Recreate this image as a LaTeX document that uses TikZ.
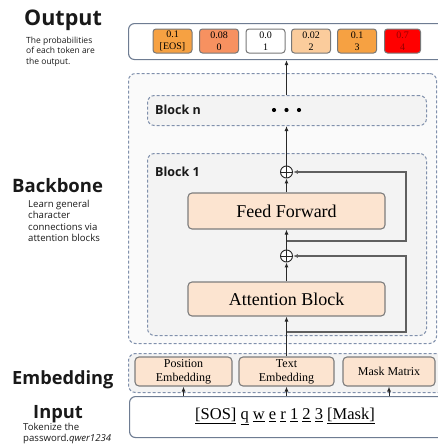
\documentclass[tikz,border=0pt]{standalone}
\usepackage{fontspec}
\setmainfont{Liberation Serif}
\newfontfamily\lab{Open Sans}
\usetikzlibrary{arrows.meta,calc}
\definecolor{dashc}{RGB}{128,144,172}
\definecolor{blockfill}{RGB}{243,243,243}
\definecolor{bbfill}{RGB}{250,250,250}
\definecolor{peach}{RGB}{252,228,208}
\definecolor{boxc}{RGB}{125,125,125}
\definecolor{outc}{RGB}{110,124,146}
\definecolor{arrc}{RGB}{40,40,40}
\definecolor{resc}{RGB}{95,95,95}
\definecolor{tokc}{RGB}{120,120,120}
\definecolor{tEOS}{RGB}{246,161,66}
\definecolor{tzero}{RGB}{247,145,96}
\definecolor{ttwo}{RGB}{251,204,156}
\definecolor{tthree}{RGB}{246,161,66}
\definecolor{tfour}{RGB}{255,0,0}
\definecolor{tfourtext}{RGB}{150,0,0}
\definecolor{labtext}{RGB}{25,25,25}
\begin{document}
\begin{tikzpicture}[x=1pt,y=-1pt,
  pbox/.style={draw=boxc, fill=peach, rounded corners=4pt, line width=1.1pt, inner sep=0pt, align=center},
  dbox/.style={draw=dashc, dash pattern=on 3pt off 2pt, rounded corners=7pt, line width=1pt, inner sep=0pt},
  tok/.style={draw=tokc, rounded corners=3pt, minimum width=39pt, minimum height=24pt, inner sep=0pt, align=center, line width=1pt, font=\fontsize{10}{11.5}\selectfont},
  arr/.style={-{Latex[length=5pt,width=4pt]}, draw=arrc, line width=1pt},
  res/.style={-{Latex[length=5pt,width=4pt]}, draw=resc, line width=1.2pt},
  plus/.style={circle, draw=black!85, fill=white, minimum size=12pt, inner sep=0pt, line width=0.9pt,
    path picture={\draw[black!85, line width=0.9pt] (path picture bounding box.north) -- (path picture bounding box.south)
      (path picture bounding box.west) -- (path picture bounding box.east);}},
  bigl/.style={text=labtext, inner sep=0pt, anchor=base west},
  smalll/.style={font=\lab\fontsize{8.5}{10}\selectfont, text=labtext, inner sep=0pt, anchor=base west},
  smallb/.style={font=\lab\fontsize{9.6}{11}\selectfont, text=labtext, inner sep=0pt, anchor=base west},
  btitle/.style={font=\lab\fontsize{12.5}{14}\selectfont\bfseries, text=labtext, inner sep=0pt, anchor=west}
]
\useasboundingbox (0,0) rectangle (438,447);
\clip (0,0) rectangle (438,447);

% ---------- left labels ----------
\node[bigl, font=\lab\fontsize{21.5}{24}\selectfont\bfseries] (lout) at (24,25) {Output};
\node[smalll] (lout1) at (26,43) {The probabilities};
\node[smalll] (lout2) at (26,53.5) {of each token are};
\node[smalll] (lout3) at (26,64) {the output.};

\node[bigl, font=\lab\fontsize{18.5}{22}\selectfont\bfseries] (lbb) at (12,192) {Backbone};
\node[smallb] (lbb1) at (28,207) {Learn general};
\node[smallb] (lbb2) at (28,218.5) {character};
\node[smallb] (lbb3) at (28,230) {connections via};
\node[smallb] (lbb4) at (28,241.5) {attention blocks};

\node[bigl, font=\lab\fontsize{18.2}{22}\selectfont\bfseries] (lemb) at (12,384) {Embedding};

\node[bigl, font=\lab\fontsize{18.3}{22}\selectfont\bfseries] (lin) at (33,418) {Input};
\node[smallb] (lin1) at (23,430) {Tokenize the};
\node[smallb] (lin2) at (23,441) {password.\textit{qwer1234}};

% ---------- output ----------
\node[draw=outc, fill=white, rounded corners=6pt, line width=1.1pt, minimum width=340pt, minimum height=36pt, inner sep=0pt, anchor=north west] (out) at (128,23) {};
\node[tok, fill=tEOS] (t0) at (172.5,41) {0.1\\{[EOS]}};
\node[tok, fill=tzero] (t1) at (219,41) {0.08\\0};
\node[tok, fill=white] (t2) at (265.5,41) {0.0\\1};
\node[tok, fill=ttwo] (t3) at (311,41) {0.02\\2};
\node[tok, fill=tthree] (t4) at (357,41) {0.1\\3};
\node[tok, fill=tfour, text=tfourtext, minimum width=36pt] (t5) at (402.5,41) {0.7\\4};

% ---------- backbone ----------
\node[dbox, fill=bbfill, minimum width=308pt, minimum height=270pt, anchor=north west] (bb) at (128,73) {};
\node[dbox, fill=blockfill, minimum width=279pt, minimum height=30pt, anchor=north west] (bn) at (147,95) {};
\node[btitle] (bntitle) at (155,110) {Block n};
\fill[black] (274,110) circle (2.1pt) (286.5,110) circle (2.1pt) (299,110) circle (2.1pt);

\node[dbox, fill=blockfill, minimum width=279pt, minimum height=182pt, anchor=north west] (b1) at (147,153) {};
\node[btitle] (b1title) at (155,172) {Block 1};

\node[plus] (p1) at (286.5,172) {};
\node[pbox, minimum width=197pt, minimum height=36pt, font=\fontsize{18}{20}\selectfont] (ff) at (286.5,211) {Feed Forward};
\node[plus] (p2) at (286.5,256) {};
\node[pbox, minimum width=197pt, minimum height=34pt, font=\fontsize{18}{20}\selectfont] (att) at (286.5,299) {Attention Block};

% ---------- embedding ----------
\node[dbox, fill=blockfill, minimum width=340pt, minimum height=39pt, anchor=north west] (emb) at (128,353) {};
\node[pbox, minimum width=97pt, minimum height=29pt, font=\fontsize{12}{14}\selectfont] (pos) at (183.5,371.5) {Position\\Embedding};
\node[pbox, minimum width=95pt, minimum height=29pt, font=\fontsize{12}{14}\selectfont] (txt) at (286.5,371.5) {Text\\Embedding};
\node[pbox, minimum width=92pt, minimum height=29pt, font=\fontsize{12}{14}\selectfont] (msk) at (389,371.5) {Mask Matrix};

% ---------- input ----------
\node[draw=outc, fill=white, rounded corners=6pt, line width=1.1pt, minimum width=340pt, minimum height=41pt, inner sep=0pt, anchor=north west] (inp) at (129,396) {};
\node[inner sep=0pt, font=\fontsize{16.5}{18}\selectfont] (inptext) at (285,416.5)
  {\underline{[SOS]} \underline{q} \underline{w} \underline{e} \underline{r} \underline{1} \underline{2} \underline{3} \underline{[Mask]}};

% ---------- connectors ----------
\draw[arr] (pos.south |- inp.north) -- (pos.south);
\draw[arr] (txt.south |- inp.north) -- (txt.south);
\draw[arr] (msk.south |- inp.north) -- (msk.south);

\draw[arr] (txt.north) -- (att.south);
\draw[arr] (att.north) -- (p2.south);
\draw[arr] (p2.north) -- (ff.south);
\draw[arr] (ff.north) -- (p1.south);
\draw[arr] (p1.north) -- (p1.north |- bn.south);
\draw[arr] (bn.north -| p1) -- (p1 |- out.south);

\coordinate (r1) at (286.5,332);
\coordinate (r1c) at (406,332);
\draw[res] (r1) -- (r1c) |- (p2.east);
\coordinate (r2) at (286.5,241);
\coordinate (r2c) at (406,241);
\draw[res] (r2) -- (r2c) |- (p1.east);
\end{tikzpicture}
\end{document}
